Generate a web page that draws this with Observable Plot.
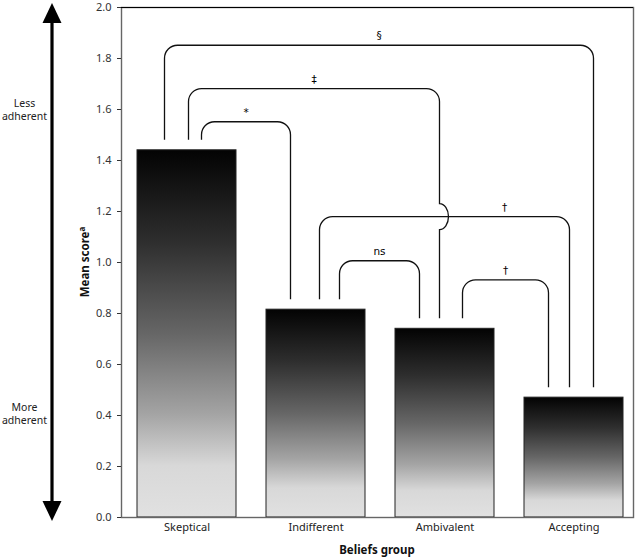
<!DOCTYPE html>
<html><head><meta charset="utf-8">
<script src="https://cdn.jsdelivr.net/npm/d3@7"></script>
<script src="https://cdn.jsdelivr.net/npm/@observablehq/plot@0.6"></script>
<style>body{margin:0;background:#fff;font-family:"Noto Sans",sans-serif}</style>
</head><body><div id="chart"></div>
<script>
// ---- data ----
const groups = ["Skeptical", "Indifferent", "Ambivalent", "Accepting"];
const means = [1.44, 0.815, 0.74, 0.47];
const yTicks = [0, 0.2, 0.4, 0.6, 0.8, 1.0, 1.2, 1.4, 1.6, 1.8, 2.0];
const bracketLabels = ["§", "‡", "*", "†", "ns", "†"];
const bracketFrom = ["Skeptical", "Skeptical", "Skeptical", "Indifferent", "Indifferent", "Ambivalent"];
const bracketTo = ["Accepting", "Ambivalent", "Indifferent", "Accepting", "Ambivalent", "Accepting"];
const bracketLevels = [1.85, 1.68, 1.55, 1.178, 1.005, 0.93];
const sideLabels = ["Less\nadherent", "More\nadherent"];
const sideLabelY = [1.6, 0.41];
const xTitle = "Beliefs group";
const yTitle = "Mean score";
const yTitleSup = "a";

const bars = groups.map((g, i) => ({group: g, mean: means[i]}));
const meanOf = Object.fromEntries(groups.map((g, i) => [g, means[i]]));
const brackets = bracketLabels.map((l, i) => ({label: l, from: bracketFrom[i], to: bracketTo[i], level: bracketLevels[i]}));
const sides = sideLabels.map((t, i) => ({text: t, y: sideLabelY[i]}));

// ---- layout (pixel offsets of bracket legs from each bar's centre) ----
const legSlots = {Skeptical: [-22, 2, 15], Indifferent: [-25, 4, 24], Ambivalent: [-25, -5, 18], Accepting: [-25, -4, 20]};

const NS = "http://www.w3.org/2000/svg";
function el(name, attrs, text) {
  const e = document.createElementNS(NS, name);
  for (const k in attrs) e.setAttribute(k, attrs[k]);
  if (text != null) e.textContent = text;
  return e;
}

function overlay(index, scales, values, dims) {
  const g = el("g", {});
  const defs = el("defs", {});
  const lg = el("linearGradient", {id: "barGrad", x1: 0, y1: 0, x2: 0, y2: 1});
  [[0, "#030303"], [0.25, "#2e2e2e"], [0.5, "#666"], [0.72, "#a4a4a4"], [0.86, "#d8d8d8"], [1, "#e1e1e1"]]
    .forEach(([o, c]) => lg.appendChild(el("stop", {offset: o, "stop-color": c})));
  defs.appendChild(lg);
  g.appendChild(defs);

  const x = scales.x, y = scales.y;
  const bw = x.bandwidth ? x.bandwidth() : 100;
  const cx = (cat) => x(cat) + bw / 2;

  const idx = (c) => groups.indexOf(c);
  const legX = new Map();
  for (const grp of groups) {
    const legs = [];
    brackets.forEach((b, i) => {
      if (b.to === grp) legs.push({i, side: "to", dir: 0, span: idx(b.to) - idx(b.from), level: b.level});
      if (b.from === grp) legs.push({i, side: "from", dir: 1, span: idx(b.to) - idx(b.from), level: b.level});
    });
    legs.sort((a, b) => a.dir - b.dir || (a.dir === 0 ? (a.span - b.span || a.level - b.level) : (b.span - a.span || b.level - a.level)));
    legs.forEach((l, k) => legX.set(l.i + l.side, cx(grp) + legSlots[grp][k]));
  }

  const r = 13, gap = 10, hopRx = 9, hopRy = 13;
  const geo = brackets.map((b, i) => ({
    xa: legX.get(i + "from"), xb: legX.get(i + "to"),
    yt: y(b.level), ya: y(meanOf[b.from]) - gap, yb: y(meanOf[b.to]) - gap, label: b.label
  }));

  function crossings(i, xv, y0, y1) {
    const lo = Math.min(y0, y1), hi = Math.max(y0, y1);
    return geo.filter((o, j) => j !== i && o.yt > lo + hopRy && o.yt < hi - hopRy && xv > o.xa && xv < o.xb).map(o => o.yt);
  }

  geo.forEach((b, i) => {
    let d = `M${b.xa},${b.ya}`;
    const upC = crossings(i, b.xa, b.yt, b.ya).sort((p, q) => q - p);
    for (const yc of upC) d += `V${yc + hopRy}A${hopRx},${hopRy} 0 0 0 ${b.xa},${yc - hopRy}`;
    d += `V${b.yt + r}A${r},${r} 0 0 1 ${b.xa + r},${b.yt}H${b.xb - r}A${r},${r} 0 0 1 ${b.xb},${b.yt + r}`;
    const downC = crossings(i, b.xb, b.yt, b.yb).sort((p, q) => p - q);
    for (const yc of downC) d += `V${yc - hopRy}A${hopRx},${hopRy} 0 0 1 ${b.xb},${yc + hopRy}`;
    d += `V${b.yb}`;
    g.appendChild(el("path", {d, fill: "none", stroke: "#111", "stroke-width": 1.3}));
    const cuts = [b.xa, b.xb];
    geo.forEach((o, j) => {
      if (j === i) return;
      for (const [lx, ly] of [[o.xa, o.ya], [o.xb, o.yb]]) {
        if (lx > b.xa && lx < b.xb && o.yt < b.yt && ly > b.yt) cuts.push(lx);
      }
    });
    cuts.sort((p, q) => p - q);
    let best = [b.xa, b.xb], bl = -1;
    for (let k = 0; k < cuts.length - 1; k++) if (cuts[k + 1] - cuts[k] > bl) { bl = cuts[k + 1] - cuts[k]; best = [cuts[k], cuts[k + 1]]; }
    g.appendChild(el("text", {x: (best[0] + best[1]) / 2, y: b.yt - 6, "text-anchor": "middle", "font-size": 10.5,
      "font-family": "'DejaVu Sans', sans-serif", fill: "#000"}, b.label));
  });

  // double-headed arrow on the left
  const ax = dims.marginLeft - 69, yTop = y(2) - 4, yBot = y(0) + 4, hh = 20, hw = 9.5;
  g.appendChild(el("line", {x1: ax, x2: ax, y1: yTop + hh - 2, y2: yBot - hh + 2, stroke: "#000", "stroke-width": 3.2}));
  g.appendChild(el("path", {d: `M${ax},${yTop}L${ax + hw},${yTop + hh}L${ax - hw},${yTop + hh}Z`, fill: "#000"}));
  g.appendChild(el("path", {d: `M${ax},${yBot}L${ax + hw},${yBot - hh}L${ax - hw},${yBot - hh}Z`, fill: "#000"}));

  // axis titles
  const fx = (dims.marginLeft + dims.width - dims.marginRight) / 2;
  g.appendChild(el("text", {x: fx, y: dims.height - 6, "text-anchor": "middle", "font-size": 11.5, "font-weight": "bold", fill: "#111"}, xTitle));
  const fy = (dims.marginTop + dims.height - dims.marginBottom) / 2;
  const t = el("text", {transform: `translate(${dims.marginLeft - 32},${fy}) rotate(-90)`, "text-anchor": "middle", "font-size": 11.5, "font-weight": "bold", fill: "#111"}, yTitle);
  t.appendChild(el("tspan", {"font-size": 8, dy: -4}, yTitleSup));
  g.appendChild(t);
  return g;
}

const chart = Plot.plot({
  width: 640, height: 560,
  marginLeft: 121, marginRight: 7, marginTop: 7, marginBottom: 43,
  style: {fontFamily: "'Noto Sans', sans-serif", fontSize: "11px", color: "#222", background: "#fff"},
  x: {domain: groups, paddingInner: 0.23, paddingOuter: 0.09, align: 0.64},
  y: {domain: [0, 2]},
  marks: [
    Plot.barY(bars, {x: "group", y: "mean", fill: "url(#barGrad)", stroke: "#222", strokeWidth: 1}),
    Plot.frame({stroke: "#666", strokeWidth: 1.4}),
    Plot.ruleY([2], {stroke: "#000", strokeWidth: 1}),
    Plot.axisY({ticks: yTicks, tickFormat: d => d.toFixed(1), tickSize: 4, tickPadding: 6, label: null, color: "#333"}),
    Plot.axisX({tickSize: 0, tickPadding: 6, label: null, color: "#222"}),
    Plot.text(sides, {text: "text", y: "y", frameAnchor: "left", dx: -97, textAnchor: "middle", lineAnchor: "middle", lineHeight: 1.25, fontSize: 10.5, fill: "#222"}),
    overlay
  ]
});
document.getElementById("chart").appendChild(chart);
</script>
</body></html>
